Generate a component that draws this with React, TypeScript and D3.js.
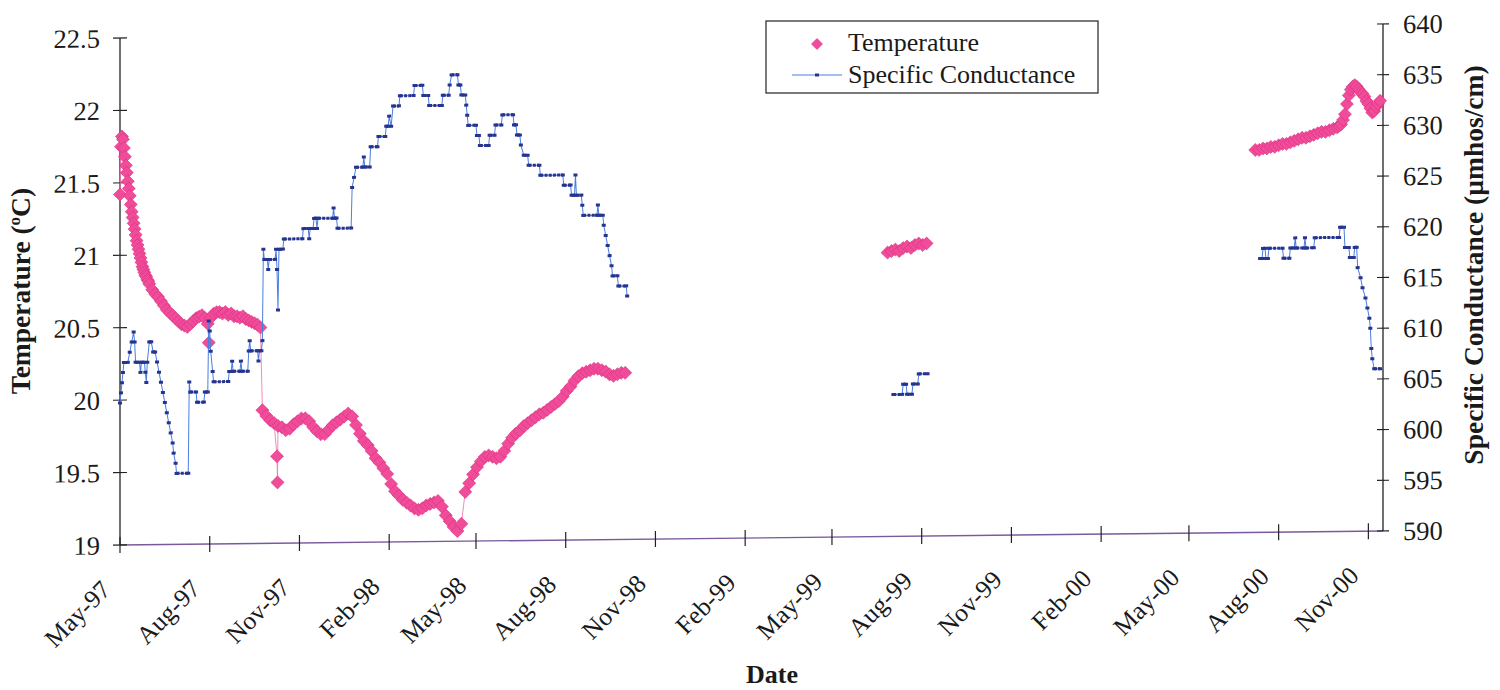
import React from "react";
import * as d3 from "d3";

const FONT = "Liberation Serif";

// ---- axes ----
const recordStart = new Date(1997, 4, 1); // day 0 of the record
const axisStart = new Date(1997, 4, 1);
const axisEnd = new Date(2000, 10, 16);
const xTickDates = d3.timeMonth.range(new Date(1997, 4, 1), new Date(2000, 11, 1), 3);
const tempTicks = [19, 19.5, 20, 20.5, 21, 21.5, 22, 22.5];
const condTicks = [590, 595, 600, 605, 610, 615, 620, 625, 630, 635, 640];

// ---- temperature (deg C), sampled every `step` days from `start` (days since 1 May 1997) ----
const tempSeg1aStart = 0;
const tempSeg1aStep = 1;
const tempSeg1a = [
  21.42, 21.75, 21.82, 21.8, 21.74, 21.68, 21.62, 21.57, 21.51, 21.46, 21.41, 21.35, 21.3, 21.26,
  21.22, 21.18, 21.14, 21.1, 21.07, 21.04, 21.01, 20.98, 20.95, 20.92, 20.9, 20.88, 20.86, 20.85,
  20.83, 20.82, 20.8,
];
const tempSeg1bStart = 33;
const tempSeg1bStep = 3;
const tempSeg1b = [
  20.76, 20.73, 20.71, 20.68, 20.65, 20.62, 20.6, 20.58, 20.56, 20.54, 20.52, 20.51, 20.5, 20.52,
  20.54, 20.56, 20.57, 20.58, 20.56, 20.52, 20.56, 20.59, 20.6, 20.6, 20.59, 20.6, 20.58, 20.59,
  20.57, 20.57, 20.56, 20.57, 20.55, 20.54, 20.53, 20.52, 20.51, 20.49,
];
const tempSeg2Start = 146;
const tempSeg2Step = 4;
const tempSeg2 = [
  19.92, 19.88, 19.85, 19.83, 19.81, 19.8, 19.78, 19.79, 19.82, 19.84, 19.86, 19.86, 19.84, 19.8,
  19.77, 19.75, 19.75, 19.78, 19.81, 19.83, 19.85, 19.87, 19.89, 19.87, 19.81, 19.75, 19.7, 19.67,
  19.63, 19.58, 19.55, 19.51, 19.47, 19.4, 19.35, 19.32, 19.29, 19.27, 19.25, 19.23, 19.22, 19.23,
  19.25, 19.26, 19.27, 19.28, 19.24, 19.18, 19.14, 19.1, 19.07, 19.12, 19.34, 19.4, 19.46, 19.51,
  19.55, 19.58, 19.59, 19.58, 19.57, 19.58, 19.62, 19.67, 19.71, 19.74, 19.76, 19.79, 19.81, 19.83,
  19.85, 19.87, 19.88, 19.9, 19.92, 19.94, 19.96, 19.99, 20.03, 20.06, 20.1, 20.13, 20.15, 20.16,
  20.17, 20.18, 20.18, 20.17, 20.16, 20.14, 20.13, 20.14, 20.15, 20.15,
];
const tempSeg3Start = 787;
const tempSeg3Step = 4;
const tempSeg3 = [20.96, 20.97, 20.98, 20.97, 20.99, 21.0, 20.99, 21.01, 21.02, 21.01, 21.02];
const tempSeg4aStart = 1164;
const tempSeg4aStep = 4;
const tempSeg4a = [
  21.64, 21.64, 21.65, 21.65, 21.66, 21.66, 21.67, 21.68, 21.68, 21.69, 21.7, 21.71, 21.72, 21.72,
  21.73, 21.74, 21.75, 21.76, 21.76, 21.77, 21.78, 21.79,
];
const tempSeg4bStart = 1250;
const tempSeg4bStep = 2;
const tempSeg4b = [
  21.8, 21.81, 21.84, 21.88, 21.95, 22.01, 22.05, 22.07, 22.08, 22.07, 22.05, 22.03, 22.02, 22.0,
  21.97, 21.95, 21.92, 21.89, 21.9, 21.93, 21.95, 21.97,
];
// isolated readings [day, deg C]
const tempOutliers: [number, number][] = [
  [91, 20.39],
  [161, 19.6],
  [161.5, 19.42],
];

// ---- specific conductance (umhos/cm): [day since 1 May 1997, value] ----
const condSeg1: [number, number][] = [
  [0, 604], [1, 605], [2, 606], [3, 607], [4, 608], [8, 608], [10, 609], [12, 610], [14, 611], [15, 610],
  [16, 608], [20, 608], [21, 607], [22, 608], [25, 608], [26, 607], [27, 606], [28, 608], [30, 610], [32, 610],
  [34, 609], [36, 609], [38, 608], [40, 607], [42, 606], [44, 605], [46, 604], [48, 603], [50, 602], [52, 601],
  [54, 600], [55, 599], [57, 598], [58, 597], [70, 597], [71, 606], [72, 605], [78, 605], [79, 604], [86, 604],
  [87, 605], [90, 605], [91, 612], [92, 611], [93, 609], [95, 607], [96, 606], [111, 606], [112, 607], [114, 607],
  [115, 608], [116, 607], [123, 607], [124, 608], [125, 607], [131, 607], [132, 609], [133, 610], [134, 609],
  [141, 609], [142, 608], [143, 609], [145, 609], [146, 610], [147, 619], [148, 618], [151, 618], [152, 617],
  [153, 618], [159, 618], [160, 619], [161, 617], [162, 613], [163, 619], [167, 619], [168, 620], [187, 620],
  [188, 621], [193, 621], [194, 620], [195, 621], [198, 621], [199, 622], [201, 622], [202, 621], [203, 622],
  [218, 622], [219, 623], [220, 622], [222, 622], [223, 621], [237, 621], [238, 625], [240, 626], [242, 627],
  [249, 627], [250, 628], [251, 627], [256, 627], [257, 629], [264, 629], [265, 630], [272, 630], [273, 631],
  [275, 631], [276, 632], [278, 631], [280, 633], [286, 633], [287, 634], [301, 634], [302, 635], [310, 635],
  [311, 634], [316, 634], [317, 633], [330, 633], [331, 634], [337, 634], [338, 635], [340, 636], [346, 636],
  [347, 635], [349, 635], [350, 634], [354, 634], [355, 633], [356, 632], [357, 631], [365, 631], [366, 630],
  [368, 630], [369, 629], [378, 629], [379, 630], [384, 630], [385, 631], [391, 631], [392, 632], [403, 632],
  [404, 631], [406, 631], [407, 630], [410, 630], [411, 629], [414, 628], [418, 628], [419, 627], [430, 627],
  [431, 626], [454, 626], [455, 625], [462, 625], [463, 624], [466, 624], [467, 626], [468, 624], [473, 624],
  [474, 623], [475, 622], [489, 622], [490, 623], [491, 622], [495, 622], [496, 621], [498, 620], [500, 619],
  [502, 618], [504, 617], [505, 616], [510, 616], [511, 615], [519, 615], [520, 614],
];
const condSeg2: [number, number][] = [
  [793, 604], [802, 604], [803, 605], [806, 605], [807, 604], [812, 604], [813, 605], [818, 605], [819, 606],
  [828, 606],
];
const condSeg3: [number, number][] = [
  [1169, 617], [1171, 617], [1172, 618], [1174, 618], [1175, 617], [1177, 617], [1178, 618], [1192, 618],
  [1193, 617], [1199, 617], [1200, 618], [1204, 618], [1205, 619], [1206, 618], [1214, 618], [1215, 619],
  [1216, 618], [1224, 618], [1225, 619], [1250, 619], [1251, 620], [1255, 620], [1256, 618], [1260, 618],
  [1261, 617], [1265, 617], [1266, 618], [1268, 618], [1269, 616], [1272, 615], [1274, 614], [1277, 613],
  [1279, 612], [1281, 611], [1282, 610], [1283, 608], [1284, 607], [1286, 606], [1292, 606],
];

const TEMP_FILL = "#f04c99";
const TEMP_EDGE = "#d92f80";
const COND_LINE = "#4a7ee0";
const COND_MARK = "#26338f";
const SKEW = 0.0111;

type P = { day: number; v: number };

const txt = { fontFamily: FONT };

export default function App() {
  const x = d3.scaleTime().domain([axisStart, axisEnd]).range([120, 1383]);
  const yT = d3.scaleLinear().domain([19, 22.5]).range([545, 38]);
  const yC = d3.scaleLinear().domain([590, 640]).range([545, 38]);
  const toDate = (d: number) => new Date(recordStart.getTime() + d * 86400000);
  const fmt = d3.timeFormat("%b-%y");

  const segs: [number, number, number[]][] = [
    [tempSeg1aStart, tempSeg1aStep, tempSeg1a],
    [tempSeg1bStart, tempSeg1bStep, tempSeg1b],
    [tempSeg2Start, tempSeg2Step, tempSeg2],
    [tempSeg3Start, tempSeg3Step, tempSeg3],
    [tempSeg4aStart, tempSeg4aStep, tempSeg4a],
    [tempSeg4bStart, tempSeg4bStep, tempSeg4b],
  ];
  const tempPts: P[] = segs.flatMap(([s, st, vals]) => vals.map((v, i) => ({ day: s + i * st, v })));
  tempOutliers.forEach(([d, v]) => tempPts.push({ day: d, v }));
  tempPts.sort((a, b) => a.day - b.day);
  const tempRuns: P[][] = [];
  tempPts.forEach((p, i) => {
    if (i === 0 || p.day - tempPts[i - 1].day > 30) tempRuns.push([]);
    tempRuns[tempRuns.length - 1].push(p);
  });

  const tLine = d3
    .line<P>()
    .x((p) => x(toDate(p.day)))
    .y((p) => yT(p.v));
  const cLine = d3
    .line<[number, number]>()
    .x((p) => x(toDate(p[0])))
    .y((p) => yC(p[1]));
  const condSegs = [condSeg1, condSeg2, condSeg3];

  const diamond = (r: number) => `M0,${-r}L${r},0L0,${r}L${-r},0Z`;

  return (
    <svg width={1500} height={690} style={{ position: "absolute", left: 0, top: 0, background: "#fff" }}>
      <rect x={0} y={0} width={1500} height={690} fill="#fff" />
      <g transform={`matrix(1, ${-SKEW}, 0, 1, 0, ${SKEW * 120})`}>
        {/* x axis */}
        <line x1={120} x2={1383} y1={545} y2={545} stroke="#7a5a9c" strokeWidth={1.4} />
        {xTickDates.map((d, i) => (
          <g key={i}>
            <line x1={x(d)} x2={x(d)} y1={537} y2={553} stroke="#222" strokeWidth={1.2} />
            <text
              transform={`translate(${x(d) - 8},591) rotate(-45)`}
              textAnchor="end"
              fontSize={25.5}
              fill="#1a1a1a"
              style={txt}
            >
              {fmt(d)}
            </text>
          </g>
        ))}
        {/* left axis */}
        <line x1={120} x2={120} y1={38} y2={545} stroke="#222" strokeWidth={1.3} />
        {tempTicks.map((t) => (
          <g key={t}>
            <line x1={113} x2={127} y1={yT(t)} y2={yT(t)} stroke="#222" strokeWidth={1.1} />
            <text x={100} y={yT(t)} dy="0.35em" textAnchor="end" fontSize={26.5} fill="#1a1a1a" style={txt}>
              {t}
            </text>
          </g>
        ))}
        {/* right axis */}
        <line x1={1383} x2={1383} y1={38} y2={545} stroke="#222" strokeWidth={1.3} />
        {condTicks.map((t) => (
          <g key={t}>
            <line x1={1377} x2={1389} y1={yC(t)} y2={yC(t)} stroke="#222" strokeWidth={1.1} />
            <text x={1403} y={yC(t)} dy="0.35em" textAnchor="start" fontSize={26.5} fill="#1a1a1a" style={txt}>
              {t}
            </text>
          </g>
        ))}

        {/* temperature */}
        {tempRuns.map((run, i) => (
          <path key={i} d={tLine(run) || ""} fill="none" stroke="#f27db3" strokeWidth={0.9} />
        ))}
        {tempPts.map((p, i) => (
          <path
            key={i}
            d={diamond(6.5)}
            transform={`translate(${x(toDate(p.day))},${yT(p.v)})`}
            fill={TEMP_FILL}
            stroke={TEMP_EDGE}
            strokeWidth={0.6}
          />
        ))}

        {/* specific conductance */}
        {condSegs.map((seg, i) => (
          <path key={i} d={cLine(seg) || ""} fill="none" stroke={COND_LINE} strokeWidth={1} />
        ))}
        {condSegs.map((seg, i) =>
          seg.slice(1).map((p, j) =>
            p[1] === seg[j][1] ? (
              <line
                key={`${i}-${j}`}
                x1={x(toDate(seg[j][0]))}
                x2={x(toDate(p[0]))}
                y1={yC(p[1])}
                y2={yC(p[1])}
                stroke={COND_MARK}
                strokeWidth={3}
                strokeDasharray="3 1.2"
              />
            ) : null
          )
        )}
        {condSegs.map((seg, i) =>
          seg.map((p, j) => (
            <rect
              key={`${i}-${j}`}
              x={x(toDate(p[0])) - 2}
              y={yC(p[1]) - 1.5}
              width={4}
              height={3}
              fill={COND_MARK}
            />
          ))
        )}
      </g>

      {/* axis titles */}
      <text
        transform="translate(30,291) rotate(-90)"
        textAnchor="middle"
        fontSize={27.5}
        fontWeight="bold"
        fill="#1a1a1a"
        style={txt}
      >
        Temperature (
        <tspan fontSize={17} dy={-10}>
          o
        </tspan>
        <tspan dy={10}>C)</tspan>
      </text>
      <text
        transform="translate(1483,265) rotate(-90)"
        textAnchor="middle"
        fontSize={27.5}
        fontWeight="bold"
        fill="#1a1a1a"
        style={txt}
      >
        Specific Conductance (µmhos/cm)
      </text>
      <text x={772} y={683} textAnchor="middle" fontSize={26} fontWeight="bold" fill="#1a1a1a" style={txt}>
        Date
      </text>

      {/* legend */}
      <rect x={766} y={21} width={332} height={72} fill="#fff" stroke="#222" strokeWidth={1.2} />
      <path d={diamond(5.5)} transform="translate(817,44)" fill={TEMP_FILL} stroke={TEMP_EDGE} strokeWidth={0.6} />
      <text x={848} y={51} fontSize={26} fill="#1a1a1a" style={txt}>
        Temperature
      </text>
      <line x1={792} x2={842} y1={75} y2={75} stroke={COND_LINE} strokeWidth={1} />
      <rect x={815} y={73.5} width={4} height={3} fill={COND_MARK} />
      <text x={848} y={83} fontSize={26} fill="#1a1a1a" style={txt}>
        Specific Conductance
      </text>
    </svg>
  );
}
